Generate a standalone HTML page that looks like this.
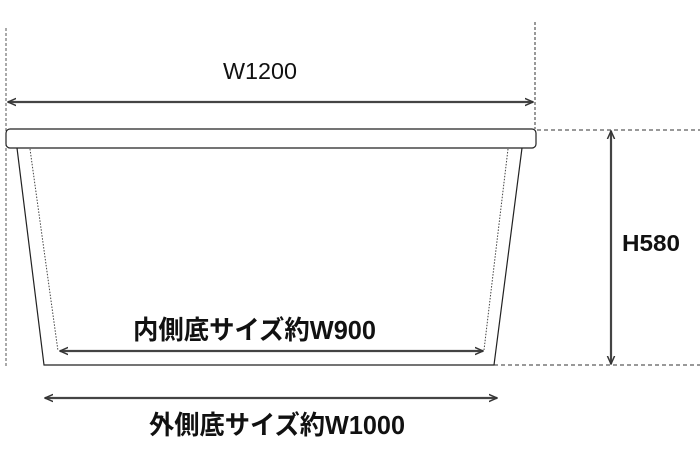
<!DOCTYPE html>
<html><head><meta charset="utf-8"><style>html,body{margin:0;padding:0;background:#fff}svg{display:block}</style></head><body>
<svg width="700" height="449" viewBox="0 0 700 449" xmlns="http://www.w3.org/2000/svg">
<defs>
<marker id="a" viewBox="0 0 10 10" refX="9" refY="5" markerWidth="9" markerHeight="9" orient="auto-start-reverse" markerUnits="userSpaceOnUse"><path d="M0,1 L9,5 L0,9" fill="none" stroke="#333" stroke-width="1.6"/></marker>
</defs>
<g fill="none">
<line x1="6" y1="28" x2="6" y2="366" stroke="#555" stroke-width="1" stroke-dasharray="3,2"/>
<line x1="535" y1="22" x2="535" y2="129" stroke="#333" stroke-width="1" stroke-dasharray="3,2"/>
<line x1="537" y1="130" x2="700" y2="130" stroke="#333" stroke-width="1" stroke-dasharray="4,3"/>
<line x1="494" y1="365" x2="700" y2="365" stroke="#333" stroke-width="1" stroke-dasharray="4,3"/>
<line x1="8" y1="102" x2="533" y2="102" stroke="#444" stroke-width="2.2" marker-start="url(#a)" marker-end="url(#a)"/>
<rect x="6" y="129" width="530" height="19" rx="4" stroke="#222" stroke-width="1.2" fill="#fff"/>
<polyline points="17,148 44,365 494,365 522,148" stroke="#222" stroke-width="1.2"/>
<line x1="30" y1="149" x2="58" y2="351" stroke="#444" stroke-width="1" stroke-dasharray="1.5,1.5"/>
<line x1="508" y1="149" x2="484" y2="350" stroke="#444" stroke-width="1" stroke-dasharray="1.5,1.5"/>
<line x1="60" y1="351" x2="483" y2="351" stroke="#444" stroke-width="2.2" marker-start="url(#a)" marker-end="url(#a)"/>
<line x1="45" y1="398" x2="497" y2="398" stroke="#444" stroke-width="2.2" marker-start="url(#a)" marker-end="url(#a)"/>
<line x1="611" y1="131" x2="611" y2="364" stroke="#444" stroke-width="2.2" marker-start="url(#a)" marker-end="url(#a)"/>
</g>
<g font-family="Liberation Sans, Noto Sans CJK JP, sans-serif" fill="#111">
<text x="223" y="79" font-size="23" textLength="74" lengthAdjust="spacingAndGlyphs">W1200</text>
<text x="622" y="251" font-size="23" font-weight="bold" textLength="58" lengthAdjust="spacingAndGlyphs">H580</text>
<text x="133" y="339" font-size="26" font-weight="bold" textLength="243" lengthAdjust="spacingAndGlyphs">内側底サイズ約W900</text>
<text x="149" y="434" font-size="26" font-weight="bold" textLength="256" lengthAdjust="spacingAndGlyphs">外側底サイズ約W1000</text>
</g>
</svg>
</body></html>
